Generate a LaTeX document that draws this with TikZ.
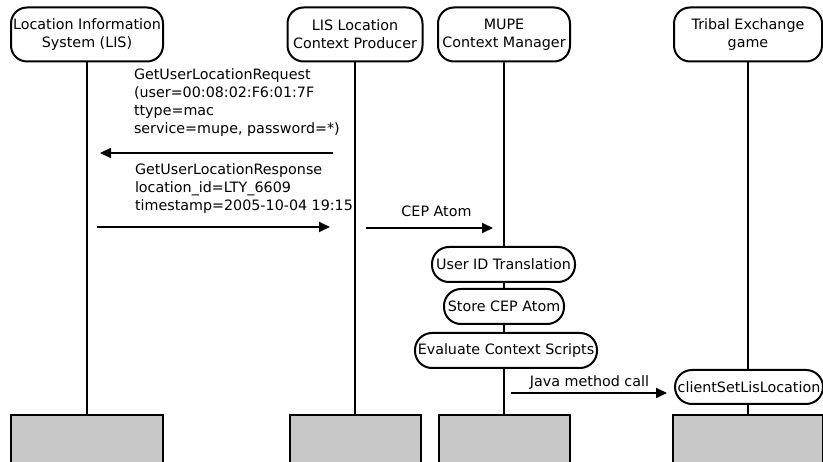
\documentclass[tikz,border=0pt]{standalone}
\usepackage{fontspec}
\setmainfont{DejaVu Sans}
\usetikzlibrary{arrows.meta}
\definecolor{boxgray}{HTML}{C8C8C8}
\begin{document}
\begin{tikzpicture}[x=1pt,y=-1pt, line width=2pt,
  every node/.style={font=\fontsize{14.3}{18}\selectfont, inner sep=0pt},
  head/.style={draw, rounded corners=16pt, minimum height=54pt, align=center},
  act/.style={draw, fill=white, rounded corners=17pt, minimum height=35pt},
  basebox/.style={draw, fill=boxgray, minimum height=70pt, anchor=north},
  msg/.style={-{Triangle[length=11pt,width=10pt]}},
  lbl/.style={align=left, anchor=north west}]
\useasboundingbox (0,0) rectangle (823,462);
\clip (0,0) rectangle (823,462);
% headers
\node[head, minimum width=152pt] (lis) at (87,34.5) {Location Information\\System (LIS)};
\node[head, minimum width=135pt] (lcp) at (355,34.5) {LIS Location\\Context Producer};
\node[head, minimum width=132pt] (mupe) at (504,34.5) {MUPE\\Context Manager};
\node[head, minimum width=148pt] (teg) at (748,34.5) {Tribal Exchange\\game};
% bottom boxes
\node[basebox, minimum width=152pt] (lisb) at (87,414) {};
\node[basebox, minimum width=131pt] (lcpb) at (355,414) {};
\node[basebox, minimum width=131pt] (mupeb) at (504,414) {};
\node[basebox, minimum width=150pt] (tegb) at (748,414) {};
% lifelines
\draw (lis.south) -- (lisb.north);
\draw (lcp.south) -- (lcpb.north);
\draw (mupe.south) -- (mupeb.north);
\draw (teg.south) -- (tegb.north);
% messages
\node[lbl] (reqtxt) at (133,67.4) {GetUserLocationRequest\\(user=00:08:02:F6:01:7F\\ttype=mac\\service=mupe, password=*)};
\coordinate (m1s) at (333,153);
\coordinate (m1e) at (100,153);
\draw[msg] (m1s) -- (m1e);
\node[lbl] (resptxt) at (134,162.4) {GetUserLocationResponse\\location\_id=LTY\_6609\\timestamp=2005-10-04 19:15};
\coordinate (m2s) at (97,227);
\coordinate (m2e) at (330,227);
\draw[msg] (m2s) -- (m2e);
\node[anchor=base] (ceptxt) at (436.5,216.7) {CEP Atom};
\coordinate (m3s) at (366,228);
\coordinate (m3e) at (493,228);
\draw[msg] (m3s) -- (m3e);
% activations
\node[act, minimum width=143pt] (uid) at (503.5,264.5) {User ID Translation};
\node[act, minimum width=120pt] (store) at (504,306.5) {Store CEP Atom};
\node[act, minimum width=182pt] (eval) at (506,350.5) {Evaluate Context Scripts};
\node[act, minimum width=148pt, minimum height=34pt] (client) at (749,387) {clientSetLisLocation};
\node[anchor=base] (javatxt) at (589.5,386.7) {Java method call};
\coordinate (m4s) at (511,393);
\coordinate (m4e) at (667,393);
\draw[msg] (m4s) -- (m4e);
\end{tikzpicture}
\end{document}
